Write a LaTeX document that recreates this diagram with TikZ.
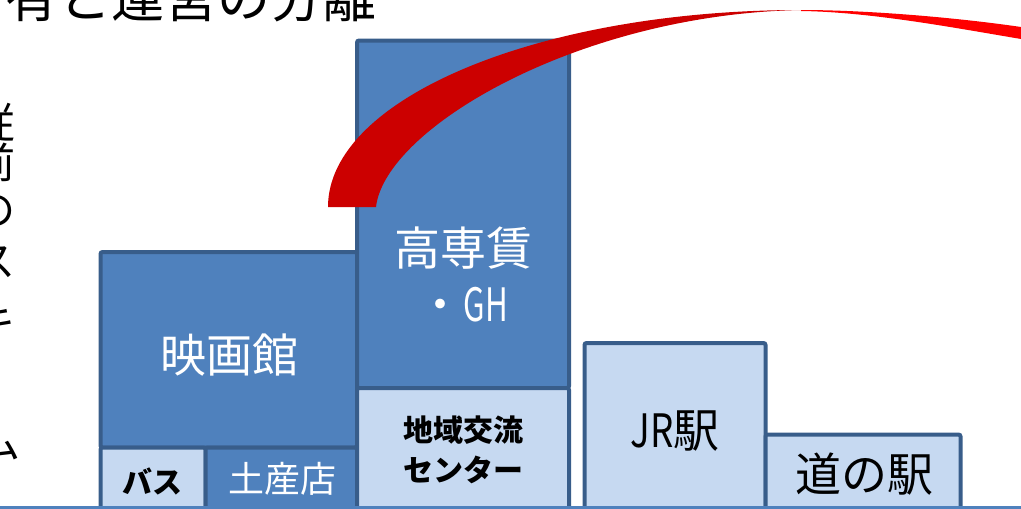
\documentclass[tikz,border=0pt]{standalone}
\usepackage{fontspec}
\setmainfont{Noto Sans CJK JP}
\definecolor{dblue}{RGB}{79,129,189}
\definecolor{bord}{RGB}{56,93,138}
\definecolor{lblue}{RGB}{198,217,241}
\definecolor{darkred}{RGB}{204,0,0}
\definecolor{brightred}{RGB}{255,0,0}
\tikzset{
  box/.style={draw=bord, line width=4pt, rounded corners=2pt, inner sep=0pt},
  darkbox/.style={box, fill=dblue},
  lightbox/.style={box, fill=lblue},
  wlabel/.style={text=white, align=center, inner sep=0pt, font=\fontsize{46}{56}\selectfont},
  blabel/.style={text=black, align=center, inner sep=0pt, font=\fontsize{46}{56}\selectfont},
  vchar/.style={text=black, inner sep=0pt, font=\fontsize{42}{42}\selectfont},
  ground/.style={draw=dblue, line width=3pt}
}
\begin{document}
\begin{tikzpicture}[x=1pt,y=-1pt]
\useasboundingbox (0,0) rectangle (1021,509);
\clip (0,0) rectangle (1021,509);
% title (cut off at top-left)
\node[anchor=base west, inner sep=0pt, font=\fontsize{53}{53}\selectfont] (title) at (-48,17) {所有と運営の分離};
% vertical text at left edge (cut off)
\node[vchar] (v1) at (-5,123) {従};
\node[vchar] (v2) at (-5,162) {前};
\node[vchar] (v3) at (-5,211) {の};
\node[vchar] (v4) at (-5,262) {ス};
\node[vchar] (v5) at (-5,322) {キ};
\node[vchar, rotate=-90] (v6) at (-20,384) {ー};
\node[vchar] (v7) at (0,443) {ム};
% boxes
\node[darkbox, minimum width=256.5pt, minimum height=195.5pt] (eiga) at (228.75,349.75) {};
\node[darkbox, minimum width=212pt, minimum height=347.5pt] (kosen) at (463,214.25) {};
\node[lightbox, minimum width=105pt, minimum height=67.5pt] (bus) at (153,481.25) {};
\node[darkbox, minimum width=151.5pt, minimum height=67.5pt] (miyage) at (281.25,481.25) {};
\node[lightbox, minimum width=212pt, minimum height=127pt] (chiiki) at (463,451.5) {};
\node[lightbox, minimum width=181pt, minimum height=172pt] (jr) at (675,429) {};
\node[lightbox, minimum width=195pt, minimum height=80.5pt] (michi) at (863,474.75) {};
% labels
\node[wlabel] (teiga) at (229,355) {映画館};
\node[wlabel] (tkosen) at (463,274) {高専賃\\・\scalebox{0.68}[1]{GH}};
\node[blabel, font=\fontsize{30}{40}\selectfont\bfseries] (tchiiki) at (463,450) {地域交流\\センター};
\node[blabel, font=\fontsize{30}{30}\selectfont\bfseries] (tbus) at (152,481) {バス};
\node[wlabel, font=\fontsize{36}{36}\selectfont] (tmiyage) at (282,479) {土産店};
\node[blabel] (tjr) at (675,431) {\scalebox{0.8}[1]{JR}駅};
\node[blabel] (tmichi) at (864,474) {道の駅};
% ground line
\coordinate (gl) at (0,507.5);
\coordinate (gr) at (1021,507.5);
\draw[ground] (gl) -- (gr);
% red curved band
\fill[darkred] (328,207) .. controls (328,98) and (540,10) .. (801,10)
  .. controls (580,14) and (385,128) .. (376,207) -- cycle;
\fill[brightred] (801,10) .. controls (870,10) and (960,18) .. (1021,27) -- (1030,28)
  -- (1030,41) -- (1021,39) .. controls (950,27) and (870,12) .. (801,11) -- cycle;
\end{tikzpicture}
\end{document}
